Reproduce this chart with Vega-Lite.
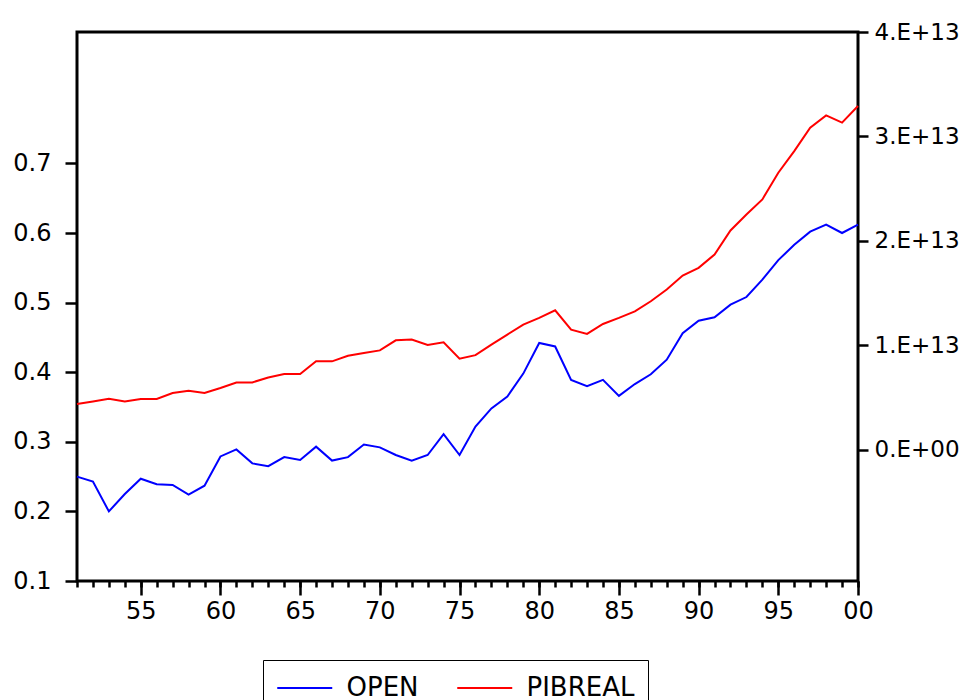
{
  "$schema": "https://vega.github.io/schema/vega-lite/v6.json",
  "width": 781,
  "height": 549,
  "autosize": {"type": "none"},
  "padding": {"left": 77, "top": 32, "right": 108, "bottom": 119},
  "background": "white",
  "config": {
    "view": {"stroke": "black", "strokeWidth": 3},
    "axis": {
      "domain": false,
      "grid": false,
      "tickColor": "black",
      "tickWidth": 2.5,
      "labelColor": "black",
      "labelFont": "DejaVu Sans",
      "labelFontSize": 24,
      "title": null
    },
    "legend": {
      "labelFont": "DejaVu Sans",
      "labelFontSize": 26,
      "labelColor": "black"
    }
  },
  "data": {
    "values": [
      {"year": 1951, "OPEN": 0.250, "PIBREAL": 4.38e12},
      {"year": 1952, "OPEN": 0.243, "PIBREAL": 4.63e12},
      {"year": 1953, "OPEN": 0.200, "PIBREAL": 4.89e12},
      {"year": 1954, "OPEN": 0.225, "PIBREAL": 4.63e12},
      {"year": 1955, "OPEN": 0.247, "PIBREAL": 4.86e12},
      {"year": 1956, "OPEN": 0.239, "PIBREAL": 4.86e12},
      {"year": 1957, "OPEN": 0.238, "PIBREAL": 5.44e12},
      {"year": 1958, "OPEN": 0.224, "PIBREAL": 5.66e12},
      {"year": 1959, "OPEN": 0.237, "PIBREAL": 5.44e12},
      {"year": 1960, "OPEN": 0.279, "PIBREAL": 5.92e12},
      {"year": 1961, "OPEN": 0.289, "PIBREAL": 6.45e12},
      {"year": 1962, "OPEN": 0.269, "PIBREAL": 6.45e12},
      {"year": 1963, "OPEN": 0.265, "PIBREAL": 6.93e12},
      {"year": 1964, "OPEN": 0.278, "PIBREAL": 7.26e12},
      {"year": 1965, "OPEN": 0.274, "PIBREAL": 7.26e12},
      {"year": 1966, "OPEN": 0.293, "PIBREAL": 8.47e12},
      {"year": 1967, "OPEN": 0.273, "PIBREAL": 8.47e12},
      {"year": 1968, "OPEN": 0.278, "PIBREAL": 9.00e12},
      {"year": 1969, "OPEN": 0.296, "PIBREAL": 9.27e12},
      {"year": 1970, "OPEN": 0.292, "PIBREAL": 9.52e12},
      {"year": 1971, "OPEN": 0.281, "PIBREAL": 1.048e13},
      {"year": 1972, "OPEN": 0.273, "PIBREAL": 1.055e13},
      {"year": 1973, "OPEN": 0.281, "PIBREAL": 1.004e13},
      {"year": 1974, "OPEN": 0.311, "PIBREAL": 1.029e13},
      {"year": 1975, "OPEN": 0.281, "PIBREAL": 8.72e12},
      {"year": 1976, "OPEN": 0.322, "PIBREAL": 9.06e12},
      {"year": 1977, "OPEN": 0.348, "PIBREAL": 1.007e13},
      {"year": 1978, "OPEN": 0.365, "PIBREAL": 1.103e13},
      {"year": 1979, "OPEN": 0.398, "PIBREAL": 1.198e13},
      {"year": 1980, "OPEN": 0.442, "PIBREAL": 1.263e13},
      {"year": 1981, "OPEN": 0.437, "PIBREAL": 1.336e13},
      {"year": 1982, "OPEN": 0.389, "PIBREAL": 1.150e13},
      {"year": 1983, "OPEN": 0.380, "PIBREAL": 1.109e13},
      {"year": 1984, "OPEN": 0.389, "PIBREAL": 1.205e13},
      {"year": 1985, "OPEN": 0.366, "PIBREAL": 1.263e13},
      {"year": 1986, "OPEN": 0.383, "PIBREAL": 1.326e13},
      {"year": 1987, "OPEN": 0.397, "PIBREAL": 1.422e13},
      {"year": 1988, "OPEN": 0.418, "PIBREAL": 1.534e13},
      {"year": 1989, "OPEN": 0.456, "PIBREAL": 1.668e13},
      {"year": 1990, "OPEN": 0.474, "PIBREAL": 1.742e13},
      {"year": 1991, "OPEN": 0.479, "PIBREAL": 1.870e13},
      {"year": 1992, "OPEN": 0.497, "PIBREAL": 2.100e13},
      {"year": 1993, "OPEN": 0.508, "PIBREAL": 2.253e13},
      {"year": 1994, "OPEN": 0.533, "PIBREAL": 2.397e13},
      {"year": 1995, "OPEN": 0.561, "PIBREAL": 2.653e13},
      {"year": 1996, "OPEN": 0.583, "PIBREAL": 2.860e13},
      {"year": 1997, "OPEN": 0.602, "PIBREAL": 3.084e13},
      {"year": 1998, "OPEN": 0.612, "PIBREAL": 3.202e13},
      {"year": 1999, "OPEN": 0.600, "PIBREAL": 3.132e13},
      {"year": 2000, "OPEN": 0.612, "PIBREAL": 3.291e13}
    ]
  },
  "layer": [
    {
      "mark": {"type": "line", "strokeWidth": 2},
      "encoding": {
        "x": {
          "field": "year",
          "type": "quantitative",
          "scale": {"domain": [1951, 2000], "nice": false, "zero": false},
          "axis": {
            "orient": "bottom",
            "values": [1955, 1960, 1965, 1970, 1975, 1980, 1985, 1990, 1995, 2000],
            "labelExpr": "format(datum.value % 100, '02d')",
            "tickSize": 14,
            "labelPadding": 4,
            "labelFlush": false,
            "labelOverlap": false
          }
        },
        "y": {
          "field": "OPEN",
          "type": "quantitative",
          "scale": {"domain": [0.1, 0.8888], "nice": false, "zero": false},
          "axis": {
            "orient": "left",
            "values": [0.1, 0.2, 0.3, 0.4, 0.5, 0.6, 0.7],
            "format": ".1f",
            "tickSize": 12,
            "labelPadding": 14,
            "labelOverlap": false,
            "labelFlush": false
          }
        },
        "color": {
          "datum": "OPEN",
          "type": "nominal",
          "scale": {"domain": ["OPEN", "PIBREAL"], "range": ["#0000FF", "#FF0000"]},
          "legend": {
            "title": null,
            "orient": "none",
            "direction": "horizontal",
            "legendX": 186,
            "legendY": 628,
            "symbolType": "M-2,0H2",
            "symbolSize": 756,
            "symbolStrokeWidth": 2,
            "symbolOffset": 13.75,
            "labelOffset": 26.75,
            "columnPadding": 34,
            "padding": 13,
            "labelExpr": "datum.label == 'PIBREAL' ? 'PIBREAL\u00a0\u00a0\u00a0' : datum.label",
            "strokeColor": "black",
            "fillColor": "white"
          }
        }
      }
    },
    {
      "mark": {"type": "line", "strokeWidth": 2},
      "encoding": {
        "x": {
          "field": "year",
          "type": "quantitative",
          "axis": {
            "orient": "bottom",
            "values": [1951, 1952, 1953, 1954, 1955, 1956, 1957, 1958, 1959, 1960, 1961, 1962, 1963, 1964, 1965, 1966, 1967, 1968, 1969, 1970, 1971, 1972, 1973, 1974, 1975, 1976, 1977, 1978, 1979, 1980, 1981, 1982, 1983, 1984, 1985, 1986, 1987, 1988, 1989, 1990, 1991, 1992, 1993, 1994, 1995, 1996, 1997, 1998, 1999, 2000],
            "labels": false,
            "tickSize": 6
          }
        },
        "y": {
          "field": "PIBREAL",
          "type": "quantitative",
          "scale": {"domain": [-1.256e13, 4e13], "nice": false, "zero": false},
          "axis": {
            "orient": "right",
            "values": [0, 1e13, 2e13, 3e13, 4e13],
            "labelExpr": "datum.value == 0 ? '0.E+00' : format(datum.value / 1e13, 'd') + '.E+13'",
            "tickSize": 10,
            "labelPadding": 6,
            "labelFontSize": 23,
            "labelOverlap": false,
            "labelFlush": false
          }
        },
        "color": {"datum": "PIBREAL", "type": "nominal"}
      }
    }
  ],
  "resolve": {"scale": {"y": "independent"}, "axis": {"x": "independent"}}
}
